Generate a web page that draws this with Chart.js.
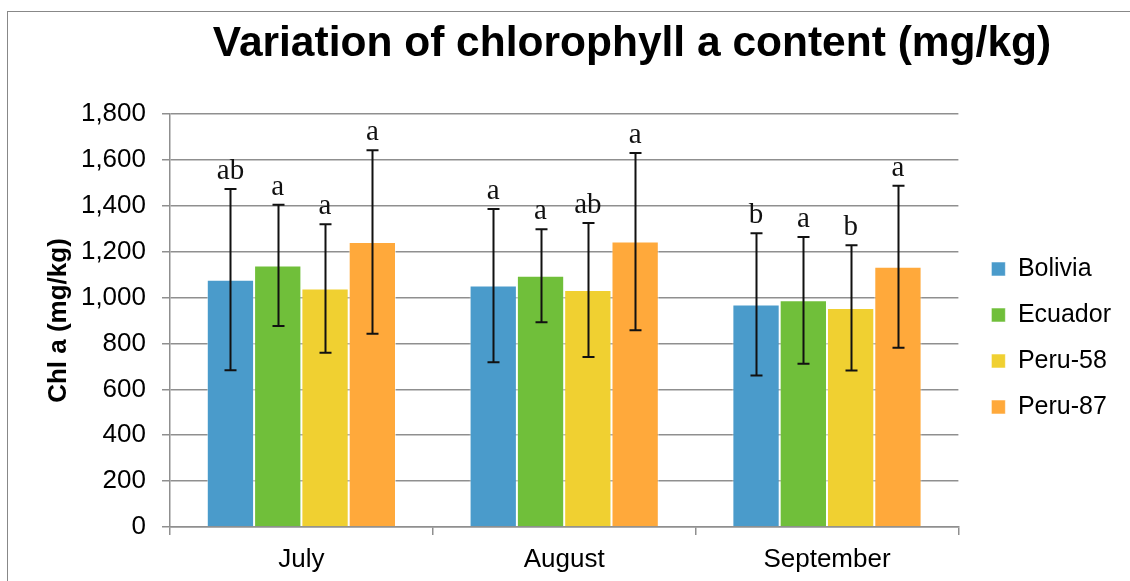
<!DOCTYPE html>
<html>
<head>
<meta charset="utf-8">
<script src="https://cdn.jsdelivr.net/npm/chart.js@4.4.1/dist/chart.umd.min.js"></script>
<style>
  html, body { margin: 0; padding: 0; background: #fff; overflow: hidden; }
  #wrap { position: relative; width: 1130px; height: 581px; }
  #frame { position: absolute; left: 7px; top: 11px; width: 1200px; height: 700px; border: 1px solid #888; pointer-events: none; }
</style>
</head>
<body>
<div id="wrap">
  <canvas id="chlChart"></canvas>
  <div id="frame"></div>
</div>
<script>
(() => {
  'use strict'

  const titleText = 'Variation of chlorophyll a content (mg/kg)';
  const months = ['July', 'August', 'September'];

  const bolivia = [1078, 1052, 970];
  const ecuador = [1140, 1095, 988];
  const peru58 = [1039, 1033, 955];
  const peru87 = [1242, 1244, 1134];

  const boliviaSd = [395, 334, 310];
  const ecuadorSd = [264, 203, 276];
  const peru58Sd = [280, 292, 273];
  const peru87Sd = [400, 386, 353];

  const boliviaLetters = ['ab', 'a', 'b'];
  const ecuadorLetters = ['a', 'a', 'a'];
  const peru58Letters = ['a', 'ab', 'b'];
  const peru87Letters = ['a', 'a', 'a'];

  const yTicks = [0, 200, 400, 600, 800, 1000, 1200, 1400, 1600, 1800];

  const sans = "'Liberation Sans', Arial, sans-serif";
  const serif = "'Liberation Serif', 'Times New Roman', serif";

  // error bars + significance letters on top of each bar
  const errorBars = {
    id: 'errorBars',
    afterDatasetsDraw(chart) {
      const { ctx } = chart;
      const y = chart.scales.y;
      ctx.save();
      ctx.strokeStyle = '#111';
      ctx.fillStyle = '#111';
      ctx.lineWidth = 2;
      ctx.font = '29px ' + serif;
      ctx.textAlign = 'center';
      ctx.textBaseline = 'alphabetic';
      chart.data.datasets.forEach((ds, i) => {
        chart.getDatasetMeta(i).data.forEach((bar, j) => {
          const hi = y.getPixelForValue(ds.data[j] + ds.sd[j]);
          const lo = y.getPixelForValue(ds.data[j] - ds.sd[j]);
          const x = Math.round(bar.x) + 0.5;
          ctx.beginPath();
          ctx.moveTo(x, hi);
          ctx.lineTo(x, lo);
          ctx.moveTo(x - 6, hi);
          ctx.lineTo(x + 6, hi);
          ctx.moveTo(x - 6, lo);
          ctx.lineTo(x + 6, lo);
          ctx.stroke();
          ctx.fillText(ds.letters[j], bar.x, hi - 10);
        });
      });
      ctx.restore();
    }
  };

  const chartTitle = {
    id: 'chartTitle',
    afterDraw(chart) {
      const { ctx } = chart;
      ctx.save();
      ctx.font = 'bold 42.5px ' + sans;
      ctx.fillStyle = '#000';
      ctx.textAlign = 'center';
      ctx.textBaseline = 'alphabetic';
      ctx.fillText(titleText, 632, 56);
      ctx.restore();
    }
  };

  const edge = 'rgba(255,255,255,0.55)';

  const ctx1 = document.getElementById('chlChart');
  const chlChart = new Chart(ctx1, {
    type: 'bar',
    data: {
      labels: months,
      datasets: [{
        label: 'Bolivia',
        data: bolivia,
        sd: boliviaSd,
        letters: boliviaLetters,
        backgroundColor: '#4a9bcb',
        borderColor: edge,
        borderWidth: 1
      }, {
        label: 'Ecuador',
        data: ecuador,
        sd: ecuadorSd,
        letters: ecuadorLetters,
        backgroundColor: '#70bf3a',
        borderColor: edge,
        borderWidth: 1
      }, {
        label: 'Peru-58',
        data: peru58,
        sd: peru58Sd,
        letters: peru58Letters,
        backgroundColor: '#f0d031',
        borderColor: edge,
        borderWidth: 1
      }, {
        label: 'Peru-87',
        data: peru87,
        sd: peru87Sd,
        letters: peru87Letters,
        backgroundColor: '#ffa93b',
        borderColor: edge,
        borderWidth: 1
      }]
    },
    options: {
      responsive: true,
      maintainAspectRatio: false,
      animation: false,
      categoryPercentage: 0.72,
      barPercentage: 1,
      layout: {
        padding: { left: 38, top: 114, right: 9, bottom: 6 }
      },
      scales: {
        x: {
          afterFit(scale) {
            scale.height = 48;
          },
          grid: {
            drawOnChartArea: false,
            drawTicks: true,
            tickLength: 8,
            color: '#8f8f8f',
            lineWidth: 1.5
          },
          border: { color: '#8f8f8f', width: 1.5 },
          ticks: {
            color: '#000',
            padding: 9,
            font: { family: sans, size: 26 }
          }
        },
        y: {
          min: 0,
          max: 1800,
          afterBuildTicks(scale) {
            scale.ticks = yTicks.map(v => ({ value: v }));
          },
          afterFit(scale) {
            scale.width = 132;
          },
          grid: {
            tickLength: 8,
            color: '#8f8f8f',
            lineWidth: 1.5
          },
          border: { color: '#8f8f8f', width: 1.5 },
          ticks: {
            color: '#000',
            padding: 16,
            font: { family: sans, size: 26 },
            callback: v => v.toLocaleString('en-US')
          },
          title: {
            display: true,
            text: 'Chl a (mg/kg)',
            color: '#000',
            padding: { top: 5, bottom: 7 },
            font: { family: sans, size: 26, weight: 'bold' }
          }
        },
        spacer: {
          position: 'right',
          grid: { display: false },
          border: { display: false },
          ticks: { display: false },
          afterFit(scale) {
            scale.width = 12;
          }
        }
      },
      plugins: {
        title: { display: false },
        tooltip: { enabled: false },
        legend: {
          display: true,
          position: 'right',
          fullSize: false,
          title: {
            display: true,
            text: '',
            padding: { top: 23, bottom: 0 },
            font: { size: 10 }
          },
          labels: {
            boxWidth: 14,
            boxHeight: 14,
            padding: 21,
            color: '#000',
            font: { family: sans, size: 25 }
          }
        }
      }
    },
    plugins: [errorBars, chartTitle]
  });
})();
</script>
</body>
</html>
